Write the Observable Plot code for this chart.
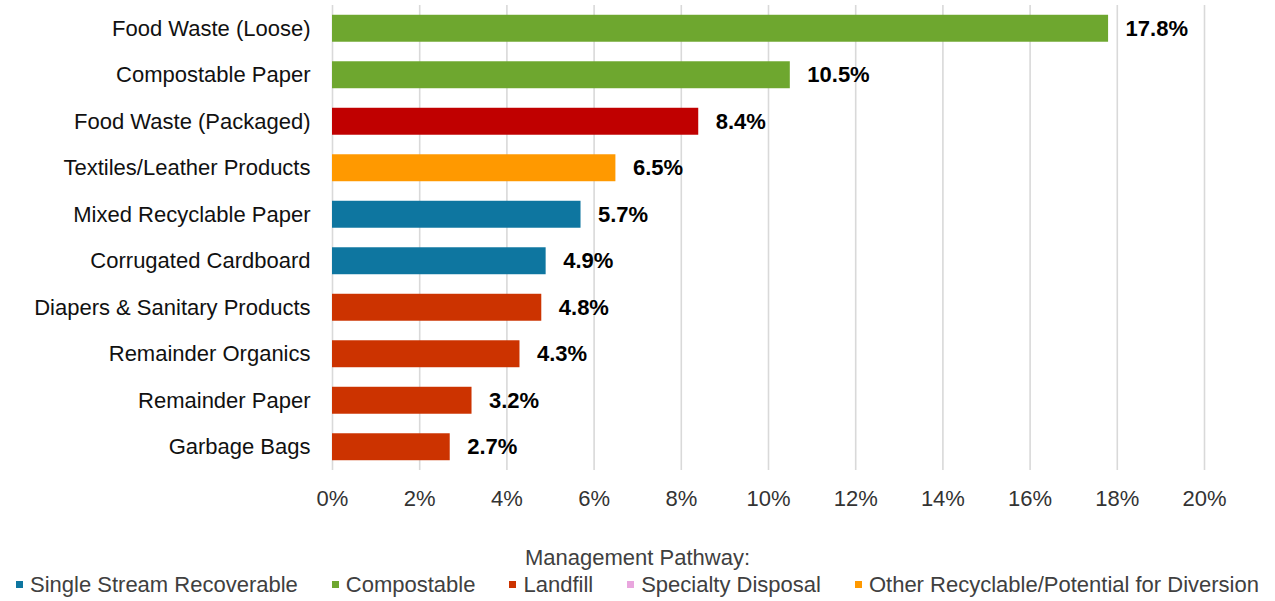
<!DOCTYPE html>
<html><head><meta charset="utf-8">
<script src="https://cdn.jsdelivr.net/npm/d3@7"></script>
<script src="https://cdn.jsdelivr.net/npm/@observablehq/plot@0.6"></script>
<style>
body{margin:0;background:#fff;font-family:"Liberation Sans",sans-serif;}
#legend{width:1275px;text-align:center;color:#404040;font-size:22px;}
#lt{margin-top:25px;line-height:26px;}
#li{display:flex;justify-content:center;gap:34px;line-height:26px;margin-top:1px;}
.sw{display:inline-block;width:7px;height:7px;margin-right:7px;vertical-align:middle;position:relative;top:-2px;}
</style></head>
<body><div id="chart"></div><div id="legend"><div id="lt">Management Pathway:</div><div id="li"></div></div>
<script>
const categories = ["Food Waste (Loose)","Compostable Paper","Food Waste (Packaged)","Textiles/Leather Products","Mixed Recyclable Paper","Corrugated Cardboard","Diapers & Sanitary Products","Remainder Organics","Remainder Paper","Garbage Bags"];
const values = [17.8,10.5,8.4,6.5,5.7,4.9,4.8,4.3,3.2,2.7];
const pathways = ["Compostable","Compostable","Packaged Food","Other Recyclable/Potential for Diversion","Single Stream Recoverable","Single Stream Recoverable","Landfill","Landfill","Landfill","Landfill"];
const legendNames = ["Single Stream Recoverable","Compostable","Landfill","Specialty Disposal","Other Recyclable/Potential for Diversion"];
const legendColors = ["#0E76A0","#6EA72F","#CC3300","#E9A6DE","#FF9900"];
const xTicks = [0,2,4,6,8,10,12,14,16,18,20];

const data = categories.map((c,i)=>({cat:c,v:values[i],p:pathways[i]}));
const colorDomain = [...legendNames,"Packaged Food"];
const colorRange = [...legendColors,"#C00000"];

const chart = Plot.plot({
  width:1275, height:520,
  marginLeft:332, marginRight:71, marginTop:5, marginBottom:50,
  style:{fontFamily:"'Liberation Sans', sans-serif", fontSize:"22px", color:"#111"},
  x:{domain:[0,20], ticks:xTicks, tickFormat:d=>d+"%", label:null, tickSize:0, tickPadding:20},
  y:{domain:categories, label:null, tickSize:0, tickPadding:22, paddingInner:0.42, paddingOuter:0.21, round:false},
  color:{domain:colorDomain, range:colorRange},
  marks:[
    Plot.gridX(xTicks,{stroke:"#d9d9d9",strokeOpacity:1,strokeWidth:1.6}),
    Plot.barX(data,{y:"cat",x:"v",fill:"p"}),
    Plot.text(data,{y:"cat",x:"v",text:d=>d.v.toFixed(1)+"%",textAnchor:"start",dx:17,fontWeight:"bold",fontSize:22,fill:"#000"})
  ]
});
d3.select(chart).selectAll("[aria-label='x-axis tick label'] text").attr("fill","#333");
document.getElementById("chart").appendChild(chart);
const li = document.getElementById("li");
legendNames.forEach((n,i)=>{
  const s=document.createElement("span");
  s.innerHTML=`<span class="sw" style="background:${legendColors[i]}"></span>${n}`;
  li.appendChild(s);
});
</script></body></html>
